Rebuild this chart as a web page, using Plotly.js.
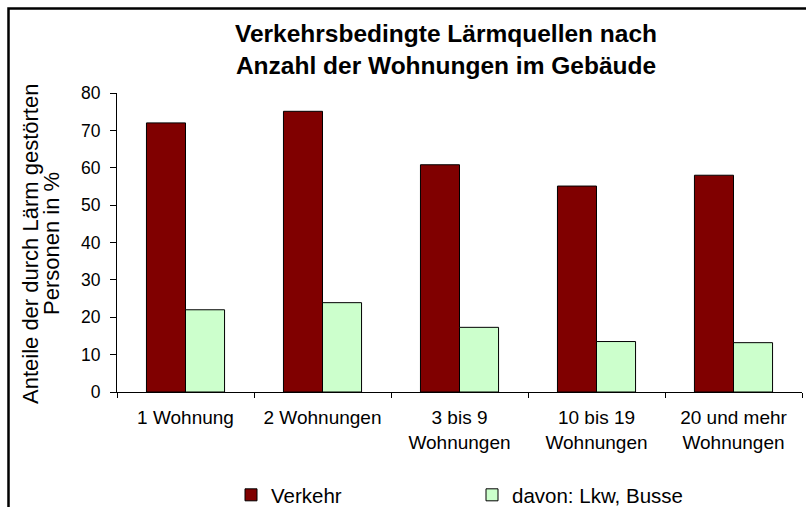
<!DOCTYPE html>
<html>
<head>
<meta charset="utf-8">
<script src="https://cdn.plot.ly/plotly-3.0.1.min.js"></script>
<style>html,body{margin:0;padding:0;background:#fff;}#chart{width:806px;height:507px;}</style>
</head>
<body>
<div id="chart"></div>
<script>
const categories = ['1 Wohnung', '2 Wohnungen', '3 bis 9<br>Wohnungen', '10 bis 19<br>Wohnungen', '20 und mehr<br>Wohnungen'];
const verkehr = [72.0, 75.1, 60.8, 55.1, 58.0];
const lkwBusse = [22.0, 23.9, 17.3, 13.5, 13.2];
const seriesNames = ['Verkehr', 'davon: Lkw, Busse'];
const yTicks = [0, 10, 20, 30, 40, 50, 60, 70, 80];
const yTitleLines = ['Anteile der durch Lärm gestörten', 'Personen in %'];

const FONT = 'Liberation Sans, Arial, Helvetica, sans-serif';
const PLOT_L = 117, PLOT_W = 685, PLOT_T = 93, PLOT_H = 299;
const px2x = p => (p - PLOT_L) / PLOT_W;
const py2y = p => (PLOT_T + PLOT_H - p) / PLOT_H;

const traces = [
  {type: 'bar', name: seriesNames[0], x: categories, y: verkehr,
   marker: {color: '#800000', line: {color: '#000000', width: 1}}},
  {type: 'bar', name: seriesNames[1], x: categories, y: lkwBusse,
   marker: {color: '#CCFFCC', line: {color: '#000000', width: 1}}}
];

const layout = {
  width: 806, height: 507,
  margin: {l: PLOT_L, r: 806 - PLOT_L - PLOT_W, t: PLOT_T, b: 507 - PLOT_T - PLOT_H, pad: 0},
  paper_bgcolor: '#ffffff', plot_bgcolor: '#ffffff',
  font: {family: FONT, color: '#000000'},
  barmode: 'group', bargap: 0.43, bargroupgap: 0,
  title: {text: '<b>Verkehrsbedingte Lärmquellen nach<br>Anzahl der Wohnungen im Gebäude</b>',
          font: {family: FONT, size: 24.5, color: '#000000'},
          xref: 'container', x: 446/806, xanchor: 'center',
          yref: 'container', y: 1 - 42/507, yanchor: 'middle'},
  xaxis: {type: 'category', range: [-0.5, 4.5], tickson: 'boundaries', ticks: 'outside', ticklen: 5,
          tickcolor: '#000', showline: true, linecolor: '#000', linewidth: 1, showgrid: false,
          ticklabelstandoff: 8,
          tickfont: {family: FONT, size: 19, color: '#000'}, fixedrange: true},
  yaxis: {range: [0, 80], tickvals: yTicks, ticks: 'outside', ticklen: 6, tickcolor: '#000',
          showline: true, linecolor: '#000', linewidth: 1, showgrid: false, zeroline: false,
          ticklabelstandoff: 6,
          tickfont: {family: FONT, size: 17.5, color: '#000'}},
  annotations: [
    {text: yTitleLines[0], textangle: -90, showarrow: false, xref: 'paper', yref: 'paper',
     x: px2x(30), y: py2y(244), xanchor: 'center', yanchor: 'middle',
     font: {family: FONT, size: 22, color: '#000'}},
    {text: yTitleLines[1], textangle: -90, showarrow: false, xref: 'paper', yref: 'paper',
     x: px2x(51), y: py2y(244), xanchor: 'center', yanchor: 'middle',
     font: {family: FONT, size: 22, color: '#000'}}
  ],
  showlegend: true,
  legend: {orientation: 'h', xref: 'container', x: 231/806, xanchor: 'left',
           yref: 'container', y: 1 - 495/507, yanchor: 'middle',
           entrywidth: 196, entrywidthmode: 'pixels',
           font: {family: FONT, size: 20.5, color: '#000'}, bgcolor: 'rgba(0,0,0,0)'},
  shapes: [{type: 'rect', xref: 'paper', yref: 'paper',
            x0: px2x(8.5), x1: 1.5, y0: -1, y1: py2y(8.5),
            line: {color: '#000', width: 2.5}, fillcolor: 'rgba(0,0,0,0)', layer: 'above'}]
};

Plotly.newPlot('chart', traces, layout, {displayModeBar: false, staticPlot: true});
</script>
</body>
</html>
